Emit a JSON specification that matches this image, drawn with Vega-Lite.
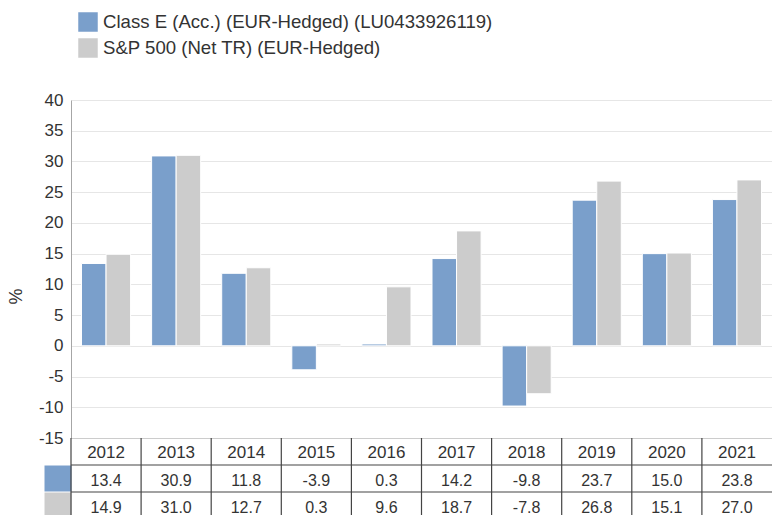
{
  "$schema": "https://vega.github.io/schema/vega-lite/v6.json",
  "padding": {"left": 7, "top": 12, "right": 0, "bottom": 0},
  "config": {
    "font": "Liberation Sans",
    "view": {"stroke": null},
    "locale": {"number": {"decimal": ".", "thousands": ",", "grouping": [3], "currency": ["$", ""], "minus": "-"}}
  },
  "datasets": {
    "returns": [
      {"year": "2012", "series": "Class E (Acc.) (EUR-Hedged) (LU0433926119)", "value": 13.4},
      {"year": "2013", "series": "Class E (Acc.) (EUR-Hedged) (LU0433926119)", "value": 30.9},
      {"year": "2014", "series": "Class E (Acc.) (EUR-Hedged) (LU0433926119)", "value": 11.8},
      {"year": "2015", "series": "Class E (Acc.) (EUR-Hedged) (LU0433926119)", "value": -3.9},
      {"year": "2016", "series": "Class E (Acc.) (EUR-Hedged) (LU0433926119)", "value": 0.3},
      {"year": "2017", "series": "Class E (Acc.) (EUR-Hedged) (LU0433926119)", "value": 14.2},
      {"year": "2018", "series": "Class E (Acc.) (EUR-Hedged) (LU0433926119)", "value": -9.8},
      {"year": "2019", "series": "Class E (Acc.) (EUR-Hedged) (LU0433926119)", "value": 23.7},
      {"year": "2020", "series": "Class E (Acc.) (EUR-Hedged) (LU0433926119)", "value": 15.0},
      {"year": "2021", "series": "Class E (Acc.) (EUR-Hedged) (LU0433926119)", "value": 23.8},
      {"year": "2012", "series": "S&P 500 (Net TR) (EUR-Hedged)", "value": 14.9},
      {"year": "2013", "series": "S&P 500 (Net TR) (EUR-Hedged)", "value": 31.0},
      {"year": "2014", "series": "S&P 500 (Net TR) (EUR-Hedged)", "value": 12.7},
      {"year": "2015", "series": "S&P 500 (Net TR) (EUR-Hedged)", "value": 0.3},
      {"year": "2016", "series": "S&P 500 (Net TR) (EUR-Hedged)", "value": 9.6},
      {"year": "2017", "series": "S&P 500 (Net TR) (EUR-Hedged)", "value": 18.7},
      {"year": "2018", "series": "S&P 500 (Net TR) (EUR-Hedged)", "value": -7.8},
      {"year": "2019", "series": "S&P 500 (Net TR) (EUR-Hedged)", "value": 26.8},
      {"year": "2020", "series": "S&P 500 (Net TR) (EUR-Hedged)", "value": 15.1},
      {"year": "2021", "series": "S&P 500 (Net TR) (EUR-Hedged)", "value": 27.0}
    ]
  },
  "vconcat": [
    {
      "width": 701,
      "height": 338,
      "data": {"name": "returns"},
      "mark": {"type": "bar", "stroke": "white", "strokeWidth": 1},
      "encoding": {
        "x": {
          "field": "year", "type": "ordinal",
          "scale": {"paddingInner": 0.3, "paddingOuter": 0.15},
          "axis": {"labels": false, "ticks": false, "title": null, "grid": false, "domain": true, "domainColor": "#cccccc"}
        },
        "xOffset": {
          "field": "series", "type": "nominal",
          "sort": ["Class E (Acc.) (EUR-Hedged) (LU0433926119)", "S&P 500 (Net TR) (EUR-Hedged)"],
          "scale": {"paddingInner": 0, "paddingOuter": 0}
        },
        "y": {
          "field": "value", "type": "quantitative",
          "scale": {"domain": [-15, 40], "nice": false, "zero": false},
          "axis": {
            "values": [-15, -10, -5, 0, 5, 10, 15, 20, 25, 30, 35, 40],
            "grid": true, "gridColor": "#e6e6e6",
            "domain": true, "domainColor": "#a6a6a6",
            "ticks": false, "labelPadding": 8,
            "labelFontSize": 17, "labelColor": "#333333",
            "title": "%", "titleFontSize": 18, "titleFontWeight": "normal", "titleColor": "#333333",
            "titleX": -55, "titleY": 196, "titleAlign": "center", "titleBaseline": "middle", "titleAngle": -90
          }
        },
        "color": {
          "field": "series", "type": "nominal",
          "scale": {
            "domain": ["Class E (Acc.) (EUR-Hedged) (LU0433926119)", "S&P 500 (Net TR) (EUR-Hedged)"],
            "range": ["#7a9fcb", "#cccccc"]
          },
          "legend": {
            "orient": "none", "legendX": 7, "legendY": -88, "title": null, "direction": "vertical",
            "symbolType": "square", "symbolSize": 380, "symbolStrokeWidth": 0,
            "labelFontSize": 18.6, "labelColor": "#333333", "labelOffset": 5, "rowPadding": 6, "labelLimit": 0
          }
        }
      }
    },
    {
      "width": 701,
      "height": 81,
      "data": {"name": "returns"},
      "layer": [
        {
          "transform": [{"filter": "datum.series == 'Class E (Acc.) (EUR-Hedged) (LU0433926119)'"}],
          "mark": {"type": "text", "fontSize": 17, "color": "#333333", "baseline": "middle", "dy": 1},
          "encoding": {
            "x": {"field": "year", "type": "ordinal", "scale": {"paddingInner": 0, "paddingOuter": 0}, "axis": null},
            "y": {
              "datum": "Year", "type": "nominal",
              "scale": {"domain": ["Year", "Class E (Acc.) (EUR-Hedged) (LU0433926119)", "S&P 500 (Net TR) (EUR-Hedged)"], "paddingInner": 0, "paddingOuter": 0},
              "axis": {
                "title": null, "labels": false, "domain": false, "grid": false,
                "ticks": true, "tickSize": 27, "tickWidth": 26, "tickCap": "butt",
                "tickColor": {"condition": [
                  {"test": "datum.value == 'Class E (Acc.) (EUR-Hedged) (LU0433926119)'", "value": "#7a9fcb"},
                  {"test": "datum.value == 'S&P 500 (Net TR) (EUR-Hedged)'", "value": "#cccccc"}
                ], "value": "transparent"}
              }
            },
            "text": {"field": "year", "type": "nominal"}
          }
        },
        {
          "mark": {"type": "text", "fontSize": 16, "color": "#333333", "baseline": "middle", "dy": 2},
          "encoding": {
            "x": {"field": "year", "type": "ordinal", "axis": null},
            "y": {"field": "series", "type": "nominal"},
            "text": {"field": "value", "type": "quantitative", "format": ".1f"}
          }
        },
        {
          "transform": [{"filter": "datum.series == 'Class E (Acc.) (EUR-Hedged) (LU0433926119)'"}],
          "mark": {"type": "rule", "color": "#444444", "strokeWidth": 1.2},
          "encoding": {
            "x": {"field": "year", "type": "ordinal", "bandPosition": 0, "axis": null}
          }
        },
        {
          "transform": [{"aggregate": [{"op": "count", "as": "n"}], "groupby": ["series"]}],
          "mark": {"type": "rule", "color": "#444444", "strokeWidth": 1.2},
          "encoding": {
            "y": {"field": "series", "type": "nominal", "bandPosition": 0}
          }
        }
      ]
    }
  ],
  "spacing": 0,
  "bounds": "flush",
  "resolve": {"legend": {"color": "independent"}}
}
